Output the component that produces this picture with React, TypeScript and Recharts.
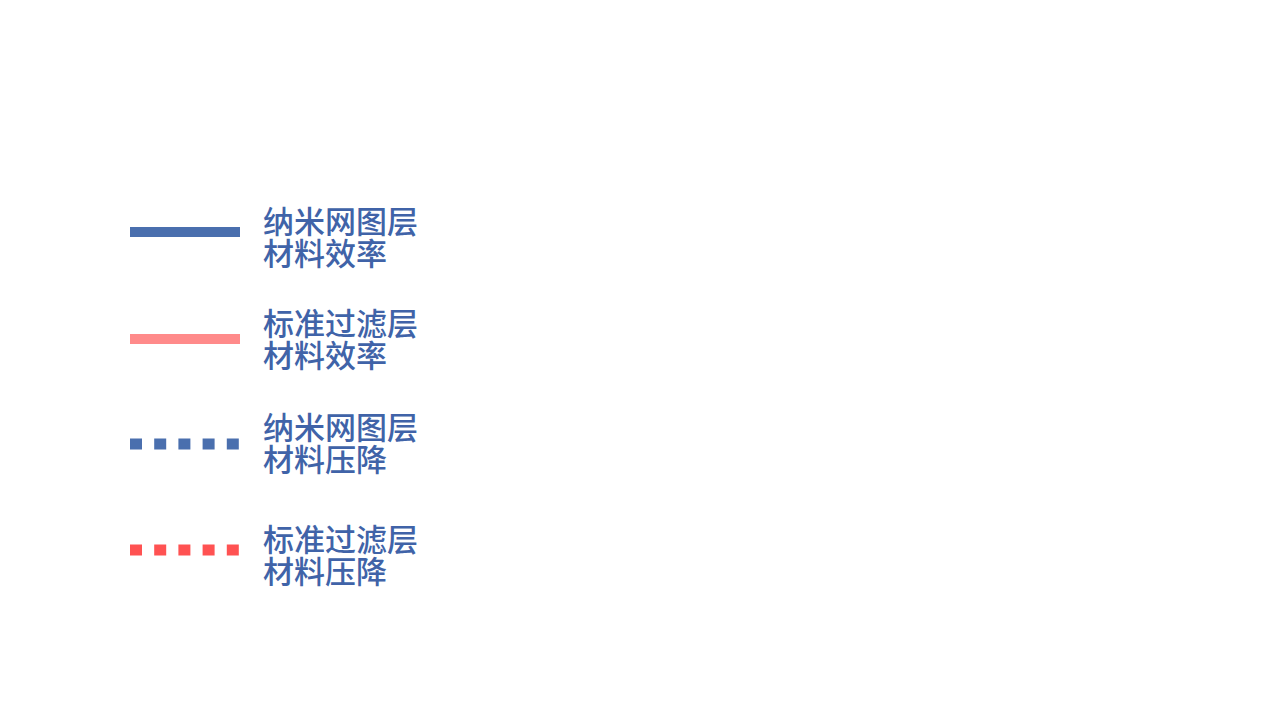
import React from "react";
import { LineChart, Line, XAxis, YAxis, Legend } from "recharts";

const seriesKeys = ["nanoEff", "stdEff", "nanoDrop", "stdDrop"];
const seriesNames = [
  "纳米网图层\n材料效率",
  "标准过滤层\n材料效率",
  "纳米网图层\n材料压降",
  "标准过滤层\n材料压降",
];
const seriesColors = ["#4a6fae", "#ff8a8a", "#4a6fae", "#ff5252"];
const seriesDash = ["", "", "12 12.2", "12 12.2"];
const seriesWidth = [10, 10, 11, 11];
const categories: string[] = [];
const nanoEff: number[] = [];
const stdEff: number[] = [];
const nanoDrop: number[] = [];
const stdDrop: number[] = [];

const data = categories.map((c, i) => ({
  name: c,
  nanoEff: nanoEff[i],
  stdEff: stdEff[i],
  nanoDrop: nanoDrop[i],
  stdDrop: stdDrop[i],
}));

const itemTops = [200, 302, 406, 518];
const swatchOffsets = [28, 33, 34, 28];

const LegendContent = (props: any) => {
  const payload = [...(props.payload || [])].sort(
    (a: any, b: any) => seriesKeys.indexOf(a.dataKey) - seriesKeys.indexOf(b.dataKey)
  );
  return (
    <div style={{ position: "relative", width: 400, height: 500 }}>
      {payload.map((p: any) => {
        const i = seriesKeys.indexOf(p.dataKey);
        return (
          <div
            key={p.dataKey}
            style={{ position: "absolute", left: 0, top: itemTops[i] - 200, height: 64 }}
          >
            <svg
              width={110}
              height={12}
              style={{ position: "absolute", left: 0, top: swatchOffsets[i] - 6 }}
            >
              <line
                x1={0}
                x2={110}
                y1={6}
                y2={6}
                stroke={seriesColors[i]}
                strokeWidth={seriesWidth[i]}
                strokeDasharray={seriesDash[i] || undefined}
              />
            </svg>
            <div
              style={{
                position: "absolute",
                left: 133,
                top: 0,
                whiteSpace: "pre",
                fontFamily: "'Noto Sans CJK SC', sans-serif",
                fontSize: 31,
                fontWeight: 500,
                lineHeight: "32px",
                color: "#4063a8",
              }}
            >
              {seriesNames[i]}
            </div>
          </div>
        );
      })}
    </div>
  );
};

export default function App() {
  return (
    <div style={{ width: 1264, height: 685, background: "#fff" }}>
      <LineChart width={1264} height={685} data={data} margin={{ top: 20, right: 20, bottom: 20, left: 20 }}>
        <XAxis dataKey="name" hide />
        <YAxis hide />
        <Legend
          layout="vertical"
          verticalAlign="top"
          align="left"
          content={<LegendContent />}
          wrapperStyle={{ left: 122, top: 196, width: 400 }}
        />
        {seriesKeys.map((k, i) => (
          <Line
            key={k}
            dataKey={k}
            name={seriesNames[i]}
            stroke={seriesColors[i]}
            strokeWidth={seriesWidth[i]}
            strokeDasharray={seriesDash[i] || undefined}
            dot={false}
            isAnimationActive={false}
          />
        ))}
      </LineChart>
    </div>
  );
}
